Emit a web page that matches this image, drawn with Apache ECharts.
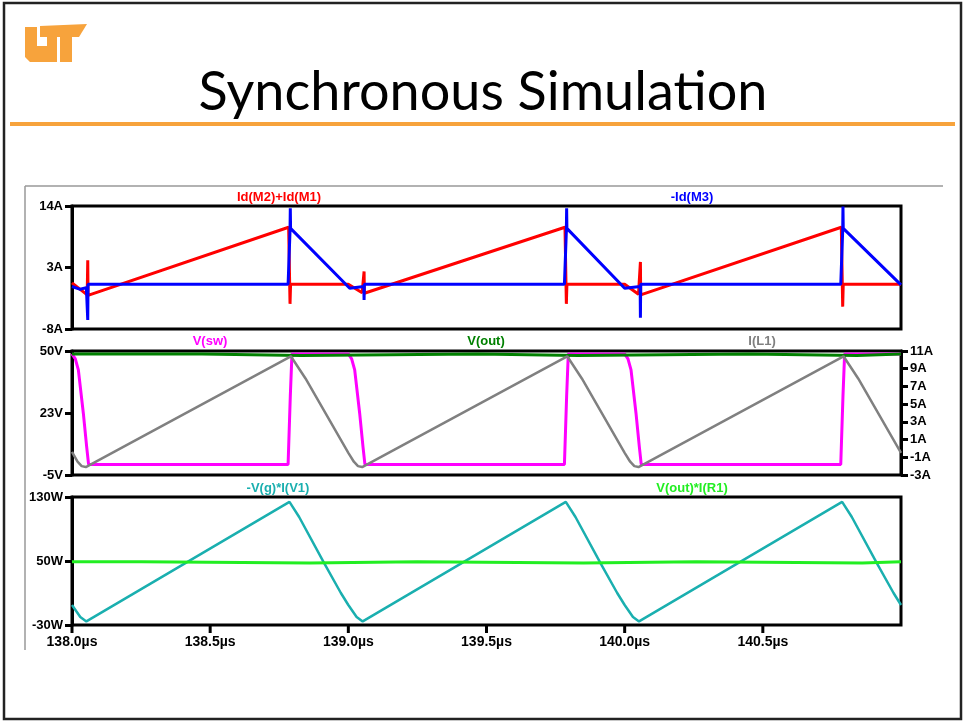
<!DOCTYPE html>
<html>
<head>
<meta charset="utf-8">
<script src="https://cdn.jsdelivr.net/npm/echarts@6.0.0/dist/echarts.min.js"></script>
<style>
html,body{margin:0;padding:0;background:#fff;}
#c{width:964px;height:721px;}
</style>
</head>
<body>
<div id="c"></div>
<script>
// ---- data (time in µs) ----
const xTicks = [138.0, 138.5, 139.0, 139.5, 140.0, 140.5];
const yTicksCurrent = [-8, 3, 14];
const yTicksVolt = [-5, 22.5, 50];
const yTicksIL = [-3, -1, 1, 3, 5, 7, 9, 11];
const yTicksPower = [-30, 50, 130];

const seriesNames = ['Id(M2)+Id(M1)', '-Id(M3)', 'V(sw)', 'V(out)', 'I(L1)', '-V(g)*I(V1)', 'V(out)*I(R1)'];

const idM2M1 = [[138.0,0.25],[138.055,-1.9],[138.057,4.3],[138.058,-2.0],[138.06,-1.9],[138.784,10.2],[138.789,-3.5],[138.791,0],
  [139.0,0],[139.05,-1.5],[139.056,-1.6],[139.057,2.3],[139.058,-1.6],[139.06,-1.5],[139.784,10.2],[139.789,-3.5],[139.791,0],
  [140.0,0],[140.05,-1.8],[140.056,-1.9],[140.057,4.0],[140.058,-1.9],[140.06,-1.9],[140.784,10.2],[140.789,-4.0],[140.791,0],[141.0,0]];

const negIdM3 = [[138.0,-0.4],[138.03,-0.9],[138.052,-0.6],[138.056,-0.6],[138.057,-6.4],[138.058,0],[138.782,0],[138.789,9.6],[138.79,13.6],[138.791,10.0],[138.795,9.9],
  [139.005,-0.7],[139.01,-0.4],[139.056,-0.4],[139.057,-2.8],[139.058,0],[139.782,0],[139.789,9.6],[139.79,13.6],[139.791,10.0],[139.795,9.9],
  [140.0,-0.7],[140.005,-0.4],[140.056,-0.4],[140.057,-6.0],[140.058,0],[140.782,0],[140.789,9.6],[140.79,13.9],[140.791,10.0],[140.795,9.9],[141.0,-0.1]];

const vSw = [[138.0,48.7],[138.005,48.5],[138.012,46.5],[138.023,41.6],[138.041,22.4],[138.053,7.6],[138.06,-0.3],[138.782,-0.3],[138.79,30],[138.796,48.7],
  [139.0,48.7],[139.005,48.5],[139.012,46.5],[139.023,41.6],[139.041,22.4],[139.053,7.6],[139.06,-0.3],[139.782,-0.3],[139.79,30],[139.796,48.7],
  [140.0,48.7],[140.005,48.5],[140.012,46.5],[140.023,41.6],[140.041,22.4],[140.053,7.6],[140.06,-0.3],[140.782,-0.3],[140.79,30],[140.796,48.7],[141.0,48.7]];

const vOut = [[138.0,48.7],[138.47,48.7],[138.47,48.0],[138.83,48.0],[138.83,48.7],[139.47,48.7],[139.47,48.0],[139.83,48.0],[139.83,48.7],
  [140.45,48.7],[140.45,48.0],[140.84,48.0],[140.84,48.7],[141.0,48.7]];

const iL1 = [[138.0,-0.4],[138.02,-1.5],[138.035,-2.0],[138.05,-2.1],[138.792,10.4],[138.845,7.9],
  [139.0,-0.5],[139.02,-1.5],[139.035,-2.0],[139.05,-2.1],[139.792,10.4],[139.845,7.9],
  [140.0,-0.5],[140.02,-1.5],[140.035,-2.0],[140.05,-2.1],[140.792,10.4],[140.845,7.9],[141.0,-0.5]];

const pIn = [[138.0,-5],[138.03,-20],[138.052,-25.5],[138.787,124],[138.822,105],[138.913,47],[138.973,10],
  [139.0,-5],[139.03,-20],[139.052,-25.5],[139.787,124],[139.822,105],[139.913,47],[139.973,10],
  [140.0,-5],[140.03,-20],[140.052,-25.5],[140.787,124],[140.822,105],[140.913,47],[140.973,10],[141.0,-5]];

const pOut = [[138.0,49.2],[138.25,49.2],[138.25,47.6],[138.86,47.6],[138.86,49.2],[139.25,49.2],[139.25,47.6],[139.85,47.6],[139.85,49.2],
  [140.26,49.2],[140.26,47.6],[140.86,47.6],[140.86,49.2],[141.0,49.2]];

// ---- chart ----
const chart = echarts.init(document.getElementById('c'), null, {renderer: 'canvas'});
const PL = 72, PW = 829;
const lblFont = {fontFamily: 'Liberation Sans, Arial, sans-serif', fontWeight: 'bold', fontSize: 13, color: '#000'};
const gridStyle = {show: true, borderColor: '#000', borderWidth: 3, backgroundColor: '#fff', containLabel: false, outerBoundsMode: 'none'};

function xAx(gi, showLabels) {
  return {
    type: 'value', gridIndex: gi, min: 138, max: 141, position: 'bottom',
    splitLine: {show: false},
    axisLine: {show: false, onZero: false},
    axisTick: {show: false},
    axisLabel: {show: showLabels, customValues: xTicks, margin: 10,
      formatter: v => v.toFixed(1) + 'µs',
      fontFamily: 'Liberation Sans, Arial, sans-serif', fontWeight: 'bold', fontSize: 14, color: '#000'}
  };
}
function yAx(gi, min, max, ticks, unit, pos) {
  return {
    type: 'value', gridIndex: gi, min: min, max: max, position: pos || 'left',
    splitLine: {show: false},
    axisLine: {show: true, onZero: false, lineStyle: {color: '#000', width: 3}},
    axisTick: {show: true, length: 7, lineStyle: {color: '#000', width: 3}, customValues: ticks},
    axisLabel: Object.assign({customValues: ticks, margin: 9,
      formatter: v => Math.round(v) + unit}, lblFont)
  };
}
function line(data, color, xi, yi, w) {
  return {type: 'line', data: data, xAxisIndex: xi, yAxisIndex: yi, showSymbol: false, symbol: 'none',
    lineStyle: {color: color, width: w || 3}, itemStyle: {color: color}, animation: false, silent: true, clip: true};
}

const labelStyle = (txt, x, y, color) => ({
  type: 'text', x: x, y: y,
  style: {text: txt, fill: color, font: 'bold 13px "Liberation Sans", Arial, sans-serif', align: 'center', verticalAlign: 'middle'}
});

const orange = '#F7A33C';

const baseGraphic = [
  {type: 'rect', shape: {x: 4, y: 3, width: 957, height: 716}, style: {fill: 'none', stroke: '#222', lineWidth: 2.5}, z: 100},
  // logo
  {type: 'polygon', shape: {points: [[25,27],[37,27],[37,46],[47,46],[47,37],[57,37],[57,62],[30,62],[25,57]]}, style: {fill: orange}},
  {type: 'polygon', shape: {points: [[40,26],[87,24],[79,37],[40,37]]}, style: {fill: orange}},
  {type: 'rect', shape: {x: 60, y: 36, width: 12, height: 26}, style: {fill: orange}},
  // title
  {type: 'text', x: 483, y: 93,
    style: {text: 'Synchronous Simulation', fill: '#000', font: '54px Lato, "Open Sans", sans-serif', align: 'center', verticalAlign: 'middle'}},
  {type: 'rect', shape: {x: 10, y: 122, width: 945, height: 4}, style: {fill: orange}},
  // plot frame
  {type: 'line', shape: {x1: 25, y1: 186, x2: 943, y2: 186}, style: {stroke: '#999', lineWidth: 1.5}},
  {type: 'line', shape: {x1: 25, y1: 186, x2: 25, y2: 650}, style: {stroke: '#999', lineWidth: 1.5}},
  // trace labels
  labelStyle(seriesNames[0], 279, 197, '#FF0000'),
  labelStyle(seriesNames[1], 692, 197, '#0000FF'),
  labelStyle(seriesNames[2], 210, 341, '#FF00FF'),
  labelStyle(seriesNames[3], 486, 341, '#008000'),
  labelStyle(seriesNames[4], 762, 341, '#808080'),
  labelStyle(seriesNames[5], 278, 488, '#1AAFAF'),
  labelStyle(seriesNames[6], 692, 488, '#22EE22')
];

chart.setOption({
  backgroundColor: '#fff',
  animation: false,
  grid: [
    Object.assign({left: PL, top: 206, width: PW, height: 123}, gridStyle),
    Object.assign({left: PL, top: 351, width: PW, height: 124}, gridStyle),
    Object.assign({left: PL, top: 497, width: PW, height: 128}, gridStyle)
  ],
  xAxis: [xAx(0, false), xAx(1, false), xAx(2, true)],
  yAxis: [
    yAx(0, -8, 14, yTicksCurrent, 'A'),
    yAx(1, -5, 50, yTicksVolt, 'V'),
    yAx(1, -3, 11, yTicksIL, 'A', 'right'),
    yAx(2, -30, 130, yTicksPower, 'W')
  ],
  series: [
    line(idM2M1, '#FF0000', 0, 0, 3),
    line(negIdM3, '#0000FF', 0, 0, 3),
    line(vSw, '#FF00FF', 1, 1, 3),
    line(vOut, '#008000', 1, 1, 3),
    line(iL1, '#808080', 1, 2, 2.5),
    line(pIn, '#1AAFAF', 2, 3, 2.5),
    line(pOut, '#22EE22', 2, 3, 3)
  ],
  graphic: baseGraphic
});

// time-axis tick marks, positioned through the chart's own scales
const tickMarks = xTicks.map(t => {
  const p = chart.convertToPixel({xAxisIndex: 2, yAxisIndex: 3}, [t, yTicksPower[0]]);
  return {type: 'rect', shape: {x: p[0] - 1.5, y: p[1], width: 3, height: 8}, style: {fill: '#000'}, z: 200};
});
chart.setOption({graphic: baseGraphic.concat(tickMarks)});
</script>
</body>
</html>
